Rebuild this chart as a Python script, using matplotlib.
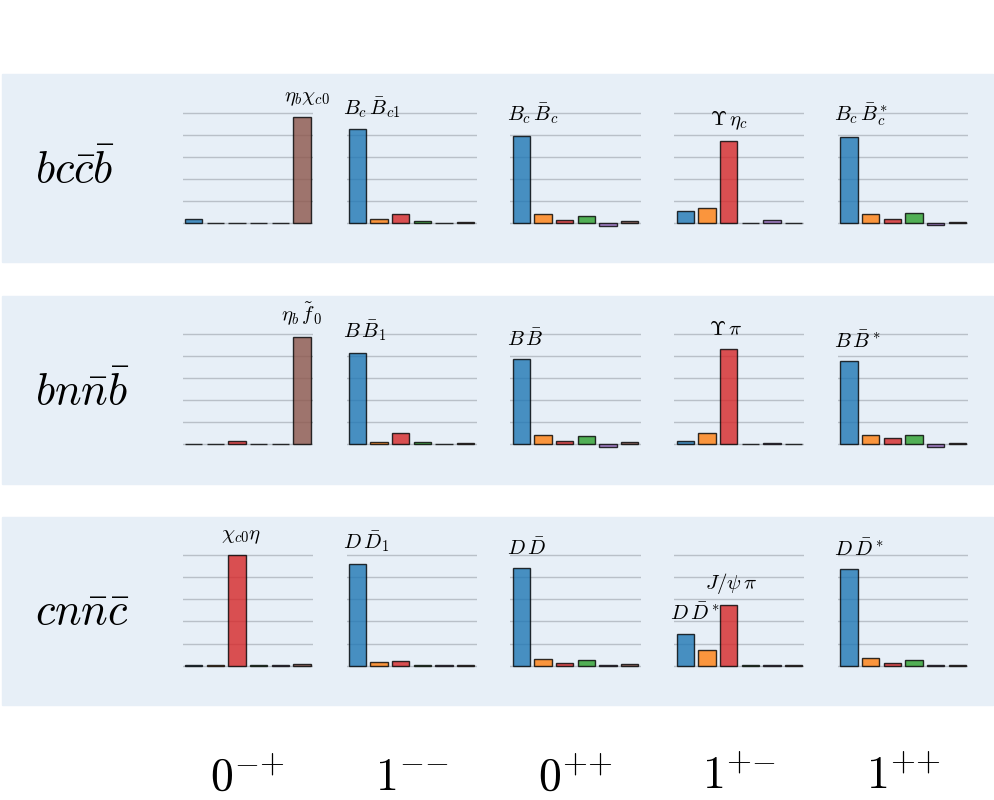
import numpy as np
import matplotlib
matplotlib.use("Agg")
import matplotlib.pyplot as plt
from matplotlib.patches import Rectangle

plt.rcParams['mathtext.fontset'] = 'cm'

# channel weights, one list of 6 bars per J^PC column
row_labels = [r'$bc\bar{c}\bar{b}$', r'$bn\bar{n}\bar{b}$', r'$cn\bar{n}\bar{c}$']
col_labels = [r'$0^{{-}{+}}$', r'$1^{{-}{-}}$', r'$0^{{+}{+}}$', r'$1^{{+}{-}}$', r'$1^{{+}{+}}$']

bccb = [
    [0.036, 0.003, 0.005, 0.005, 0.003, 0.960],
    [0.850, 0.039, 0.084, 0.024, 0.003, 0.015],
    [0.793, 0.081, 0.030, 0.068, -0.024, 0.021],
    [0.108, 0.135, 0.744, 0.002, 0.027, 0.005],
    [0.776, 0.087, 0.039, 0.093, -0.018, 0.015],
]
bnnb = [
    [0.003, 0.003, 0.027, 0.002, 0.002, 0.969],
    [0.829, 0.018, 0.105, 0.024, 0.002, 0.015],
    [0.771, 0.081, 0.033, 0.075, -0.027, 0.024],
    [0.027, 0.099, 0.861, 0.002, 0.008, 0.002],
    [0.748, 0.087, 0.057, 0.081, -0.020, 0.010],
]
cnnc = [
    [0.005, 0.004, 0.997, 0.004, 0.004, 0.012],
    [0.922, 0.030, 0.042, 0.009, 0.003, 0.003],
    [0.883, 0.057, 0.021, 0.048, 0.010, 0.015],
    [0.288, 0.139, 0.547, 0.002, 0.010, 0.002],
    [0.874, 0.066, 0.024, 0.048, 0.005, 0.005],
]
all_rows = [bccb, bnnb, cnnc]

# (row, col, bar index, label, x nudge)
annotations = [
    (0, 0, 5, r'$\eta_b\chi_{c0}$', 0.25),
    (0, 1, 0, r'$B_c\,\bar{B}_{c1}$', 0),
    (0, 2, 0, r'$B_c\,\bar{B}_c$', 0),
    (0, 3, 2, r'$\Upsilon\,\eta_c$', 0),
    (0, 4, 0, r'$B_c\,\bar{B}_c^*$', 0),
    (1, 0, 5, r'$\eta_b\,\tilde{f}_0$', 0),
    (1, 1, 0, r'$B\,\bar{B}_1$', 0),
    (1, 2, 0, r'$B\,\bar{B}$', 0),
    (1, 3, 2, r'$\Upsilon\,\pi$', -0.15),
    (1, 4, 0, r'$B\,\bar{B}^*$', 0),
    (2, 0, 2, r'$\chi_{c0}\eta$', 0.2),
    (2, 1, 0, r'$D\,\bar{D}_1$', 0),
    (2, 2, 0, r'$D\,\bar{D}$', 0),
    (2, 3, 0, r'$D\,\bar{D}^*$', 0),
    (2, 3, 2, r'$J/\psi\,\pi$', 0.1),
    (2, 4, 0, r'$D\,\bar{D}^*$', 0),
]

colors = ['tab:blue', 'tab:orange', 'tab:red', 'tab:green', 'tab:purple', 'tab:brown']
band_color = '#e7eff7'
grid_color = '#b9c0c8'

W, H = 995, 800
fig = plt.figure(figsize=(W / 100, H / 100), dpi=100)

# layout in pixels (from top-left)
band_tops = [74, 296, 517]
band_h = 188
baselines = [223.3, 444.3, 665.7]
unit = 110.7
col_left0, col_step, ax_w = 182.7, 163.9, 130
ylo, yhi = -0.1, 1.1

for r in range(3):
    fig.add_artist(Rectangle((2 / W, 1 - (band_tops[r] + band_h) / H), 991 / W, band_h / H,
                             transform=fig.transFigure, color=band_color, zorder=0))
    fig.text(35 / W, 1 - (band_tops[r] + band_h / 2 + 2) / H, row_labels[r],
             fontsize=32, ha='left', va='center')
    for c in range(5):
        bottom_px = baselines[r] - ylo * unit
        top_px = baselines[r] - yhi * unit
        ax = fig.add_axes([(col_left0 + c * col_step) / W, 1 - bottom_px / H,
                           ax_w / W, (bottom_px - top_px) / H])
        ax.set_facecolor('none')
        vals = all_rows[r][c]
        ax.bar(np.arange(6), vals, width=0.8, color=colors, edgecolor='black',
               linewidth=1, alpha=0.8, zorder=3)
        ax.set_xlim(-0.5, 5.5)
        ax.set_ylim(ylo, yhi)
        ax.set_yticks(np.arange(0, 1.01, 0.2))
        ax.set_xticks([])
        ax.tick_params(length=0, labelleft=False, labelbottom=False)
        ax.yaxis.grid(True, color=grid_color, linewidth=1)
        ax.set_axisbelow(True)
        for s in ax.spines.values():
            s.set_visible(False)
        for (ar, ac, idx, txt, dx) in annotations:
            if ar == r and ac == c:
                y = max(vals[idx], 0) + 0.085
                if idx == 0:
                    ax.text(-0.68, y, txt, fontsize=15, ha='left', va='bottom')
                else:
                    ax.text(idx + dx, y, txt, fontsize=15, ha='center', va='bottom')

for c in range(5):
    xc = col_left0 + c * col_step + ax_w / 2
    fig.text(xc / W, 1 - 790 / H, col_labels[c], fontsize=33, ha='center', va='baseline')

fig.savefig('out.png', dpi=100)
